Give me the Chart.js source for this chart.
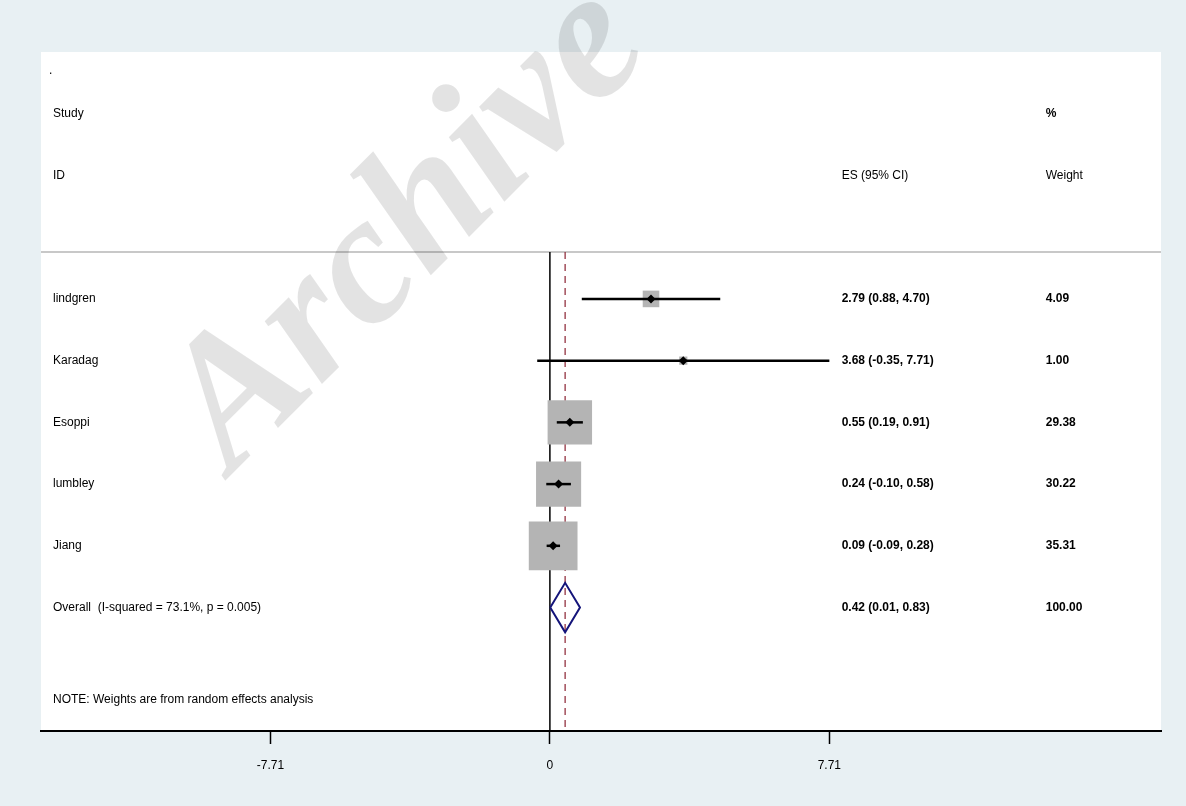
<!DOCTYPE html>
<html>
<head>
<meta charset="utf-8">
<script src="https://cdn.jsdelivr.net/npm/chart.js@4"></script>
<style>
  html, body { margin: 0; padding: 0; background: #e8f0f3; }
  #wrap { width: 1186px; height: 806px; }
</style>
</head>
<body>
<div id="wrap"><canvas id="forest" width="1186" height="806"></canvas></div>
<script>
// study data
const studies = ['lindgren', 'Karadag', 'Esoppi', 'lumbley', 'Jiang'];
const es = [2.79, 3.68, 0.55, 0.24, 0.09];
const ciLow = [0.88, -0.35, 0.19, -0.10, -0.09];
const ciHigh = [4.70, 7.71, 0.91, 0.58, 0.28];
const weights = [4.09, 1.00, 29.38, 30.22, 35.31];

// pooled estimate
const overallLabel = 'Overall  (I-squared = 73.1%, p = 0.005)';
const overallES = 0.42;
const overallCI = [0.01, 0.83];
const overallWeight = 100.00;

// axis ticks
const tickValues = [-7.71, 0, 7.71];

const fmt = v => v.toFixed(2);
const firstRow = 4;          // y row of first study
const overallRow = firstRow + studies.length;
const topRule = 3.24;        // header separator
const yBottom = 11;
const xMin = -14.04, xMax = 16.86;

const datasets = [];

// reference lines: null effect and overall estimate
datasets.push({
  data: [{x: 0, y: topRule}, {x: 0, y: yBottom}],
  borderColor: '#000', borderWidth: 1.5, order: 6
});
datasets.push({
  data: [{x: overallES, y: topRule}, {x: overallES, y: yBottom}],
  borderColor: '#8b2232', borderWidth: 1.2, borderDash: [7, 5], order: 6
});
// header separator
datasets.push({
  data: [{x: xMin, y: topRule}, {x: xMax, y: topRule}],
  borderColor: '#c8c8c8', borderWidth: 2, order: 6
});

// weight boxes
datasets.push({
  showLine: false,
  data: studies.map((s, i) => ({x: es[i], y: firstRow + i})),
  pointStyle: 'rect',
  pointRadius: weights.map(w => 5.8 * Math.sqrt(w)),
  backgroundColor: '#b4b4b4', borderColor: '#b4b4b4', borderWidth: 0,
  order: 5
});

// confidence intervals
studies.forEach((s, i) => {
  datasets.push({
    data: [{x: ciLow[i], y: firstRow + i}, {x: ciHigh[i], y: firstRow + i}],
    borderColor: '#000', borderWidth: 2.5, order: 4
  });
});

// point estimates
datasets.push({
  showLine: false,
  data: studies.map((s, i) => ({x: es[i], y: firstRow + i})),
  pointStyle: 'rectRot', pointRadius: 4.5,
  backgroundColor: '#000', borderColor: '#000', borderWidth: 0,
  order: 3
});

// overall diamond
datasets.push({
  data: [
    {x: overallCI[0], y: overallRow},
    {x: overallES, y: overallRow - 0.4},
    {x: overallCI[1], y: overallRow},
    {x: overallES, y: overallRow + 0.4},
    {x: overallCI[0], y: overallRow}
  ],
  borderColor: '#14147a', borderWidth: 2, order: 2
});

const tablePlugin = {
  id: 'table',
  beforeDraw(chart) {
    const {ctx, chartArea: a} = chart;
    ctx.save();
    ctx.fillStyle = '#fff';
    ctx.fillRect(a.left, a.top, a.right - a.left, a.bottom - a.top);
    ctx.restore();
  },
  afterDraw(chart) {
    const {ctx, chartArea: a, scales: {x, y}} = chart;
    const left = a.left + 12;
    const esX = x.getPixelForValue(8.05);
    const wX = x.getPixelForValue(13.68);
    const norm = '12px "Liberation Sans", Arial, sans-serif';
    const bold = 'bold 12px "Liberation Sans", Arial, sans-serif';
    ctx.save();
    ctx.fillStyle = '#000';
    ctx.textBaseline = 'middle';
    ctx.textAlign = 'left';
    ctx.font = norm;
    ctx.fillText('.', a.left + 8, y.getPixelForValue(0.3));
    ctx.fillText('Study', left, y.getPixelForValue(1));
    ctx.fillText('ID', left, y.getPixelForValue(2));
    ctx.fillText('ES (95% CI)', esX, y.getPixelForValue(2));
    ctx.fillText('Weight', wX, y.getPixelForValue(2));
    ctx.font = bold;
    ctx.fillText('%', wX, y.getPixelForValue(1));
    studies.forEach((s, i) => {
      const py = y.getPixelForValue(firstRow + i);
      ctx.font = norm;
      ctx.fillText(s, left, py);
      ctx.font = bold;
      ctx.fillText(fmt(es[i]) + ' (' + fmt(ciLow[i]) + ', ' + fmt(ciHigh[i]) + ')', esX, py);
      ctx.fillText(fmt(weights[i]), wX, py);
    });
    const oy = y.getPixelForValue(overallRow);
    ctx.font = norm;
    ctx.fillText(overallLabel, left, oy);
    ctx.font = bold;
    ctx.fillText(fmt(overallES) + ' (' + fmt(overallCI[0]) + ', ' + fmt(overallCI[1]) + ')', esX, oy);
    ctx.fillText(fmt(overallWeight), wX, oy);
    ctx.font = norm;
    ctx.fillText('NOTE: Weights are from random effects analysis', left, y.getPixelForValue(10.5));

    // archive watermark
    ctx.translate(232, 474);
    ctx.rotate(-45 * Math.PI / 180);
    ctx.font = 'bold italic 185px "Liberation Serif", "DejaVu Serif", serif';
    ctx.fillStyle = 'rgba(0,0,0,0.11)';
    ctx.textBaseline = 'alphabetic';
    ctx.fillText('Archive', 0, 0);
    ctx.restore();
  }
};

new Chart(document.getElementById('forest').getContext('2d'), {
  type: 'scatter',
  data: {datasets: datasets.map(d => Object.assign({showLine: true, pointRadius: 0, fill: false}, d))},
  options: {
    responsive: false,
    animation: false,
    layout: {autoPadding: false, padding: {left: 41, right: 25, top: 52, bottom: 0}},
    plugins: {legend: {display: false}, tooltip: {enabled: false}},
    scales: {
      x: {
        type: 'linear',
        min: xMin,
        max: xMax,
        afterBuildTicks: scale => { scale.ticks = tickValues.map(v => ({value: v})); },
        afterFit: scale => {
          scale.height = 75;
          scale.paddingLeft = 0;
          scale.paddingRight = 0;
        },
        ticks: {
          callback: v => String(v),
          color: '#000',
          padding: 14,
          font: {family: '"Liberation Sans", Arial, sans-serif', size: 12}
        },
        grid: {drawOnChartArea: false, drawTicks: true, tickLength: 13, tickColor: '#000', tickWidth: 1.5},
        border: {display: true, color: '#000', width: 2}
      },
      y: {
        type: 'linear',
        display: false,
        reverse: true,
        min: 0,
        max: yBottom
      }
    }
  },
  plugins: [tablePlugin]
});
</script>
</body>
</html>
